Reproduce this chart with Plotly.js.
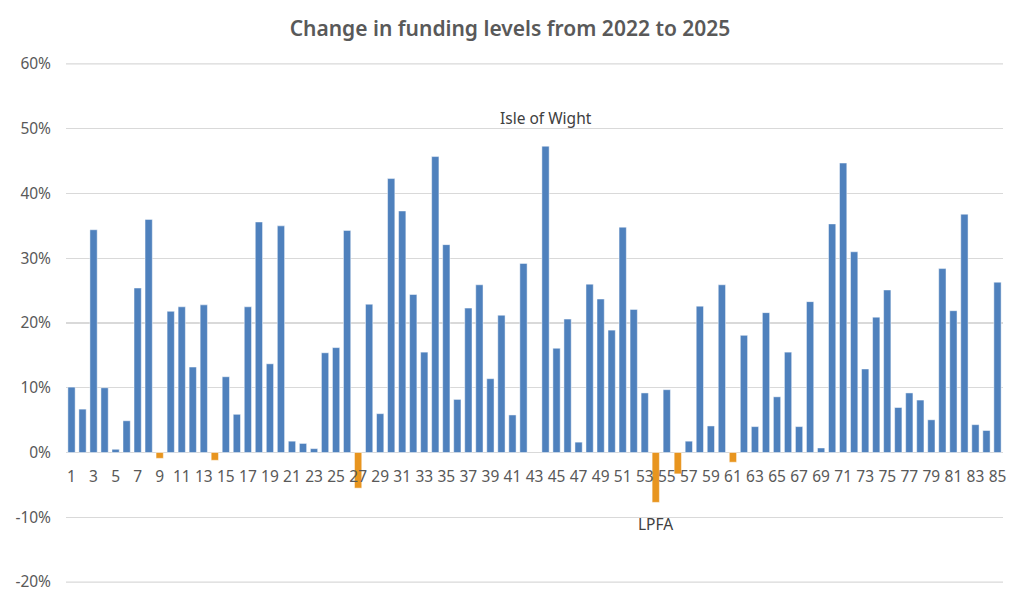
<!DOCTYPE html>
<html>
<head>
<meta charset="utf-8">
<script src="https://cdn.plot.ly/plotly-3.0.1.min.js"></script>
<style>html,body{margin:0;padding:0;background:#fff;}#chart{width:1024px;height:601px;}</style>
</head>
<body>
<div id="chart"></div>
<script>
const categories = [1,2,3,4,5,6,7,8,9,10,11,12,13,14,15,16,17,18,19,20,21,22,23,24,25,26,27,28,29,30,31,32,33,34,35,36,37,38,39,40,41,42,43,44,45,46,47,48,49,50,51,52,53,54,55,56,57,58,59,60,61,62,63,64,65,66,67,68,69,70,71,72,73,74,75,76,77,78,79,80,81,82,83,84,85];
const changePct = [10.1,6.7,34.4,10.0,0.5,4.9,25.4,36.0,-0.9,21.8,
  22.5,13.2,22.8,-1.2,11.7,5.9,22.5,35.6,13.7,35.0,
  1.75,1.4,0.6,15.4,16.2,34.3,-5.5,22.9,6.0,42.3,
  37.3,24.4,15.5,45.7,32.1,8.2,22.3,25.9,11.4,21.2,
  5.8,29.2,null,47.3,16.1,20.6,1.6,26.0,23.7,18.9,
  34.8,22.1,9.2,-7.7,9.7,-3.3,1.75,22.6,4.1,25.9,
  -1.5,18.1,4.0,21.6,8.6,15.5,4.0,23.3,0.7,35.3,
  44.7,31.0,12.9,20.9,25.1,6.95,9.2,8.1,5.05,28.4,
  21.9,36.8,4.3,3.4,26.3];
const yTicks = [-20,-10,0,10,20,30,40,50,60];
const yTickLabels = ['-20%','-10%','0%','10%','20%','30%','40%','50%','60%'];
const labelledPoints = [{cat:44, text:'Isle of Wight', y:51.7},{cat:54, text:'LPFA', y:-11.0}];

const posColor = '#4f81bd', negColor = '#e8951f';
const colors = changePct.map(v => (v !== null && v < 0) ? negColor : posColor);

const trace = {
  type:'bar', x:categories, y:changePct,
  marker:{color:colors, line:{color:'rgba(255,255,255,0.6)', width:0.8}},
  hoverinfo:'x+y'
};
const fontFam = '"Noto Sans", "Open Sans", sans-serif';
const gridColor = '#d9d9d9';
const edgeLines = [yTicks[0], yTicks[yTicks.length-1]].map(v => ({
  type:'line', xref:'paper', yref:'y', x0:0, x1:1, y0:v, y1:v, layer:'below',
  line:{color:gridColor, width:1.3}
}));
const layout = {
  width:1024, height:601,
  margin:{l:66, r:21, t:63, b:18},
  paper_bgcolor:'#fff', plot_bgcolor:'#fff',
  showlegend:false,
  bargap:0.34,
  title:{text:'Change in funding levels from 2022 to 2025', x:510/1024, xanchor:'center', y:1-29/601, yanchor:'middle',
    font:{family:fontFam, size:21, color:'#595959', weight:600}},
  xaxis:{type:'linear', range:[0.5,85.5], tick0:1, dtick:2, showgrid:false, zeroline:false, showline:false,
    ticks:'', anchor:'free', position:0.25, ticklabelstandoff:12,
    tickfont:{family:fontFam, size:15.5, color:'#595959'}},
  yaxis:{range:[-20.15,60.15], tickvals:yTicks, ticktext:yTickLabels,
    showgrid:true, gridcolor:gridColor, gridwidth:1.3,
    zeroline:true, zerolinecolor:gridColor, zerolinewidth:1.3, ticks:'', ticklabelstandoff:14,
    tickfont:{family:fontFam, size:15.5, color:'#595959'}},
  shapes: edgeLines,
  annotations: labelledPoints.map(p => ({x:p.cat, y:p.y, xref:'x', yref:'y', text:p.text, showarrow:false,
    font:{family:fontFam, size:15.5, color:'#404040'}, xanchor:'center', yanchor:'middle'}))
};
Plotly.newPlot('chart',[trace],layout,{displayModeBar:false, staticPlot:true});
</script>
</body>
</html>
